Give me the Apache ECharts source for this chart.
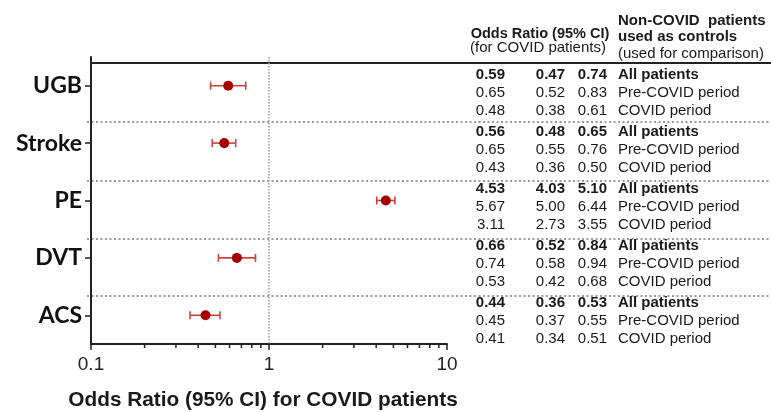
<!DOCTYPE html>
<html>
<head>
<meta charset="utf-8">
<script src="https://cdn.jsdelivr.net/npm/echarts@6/dist/echarts.min.js"></script>
<style>
html,body{margin:0;padding:0;background:#fff;}
#chart{width:771px;height:412px;}
</style>
</head>
<body>
<div id="chart"></div>
<script>
// ---- data ----
const categories = ['UGB', 'Stroke', 'PE', 'DVT', 'ACS'];
const orValues = [0.59, 0.56, 4.53, 0.66, 0.44];
const ciLow = [0.47, 0.48, 4.03, 0.52, 0.36];
const ciHigh = [0.74, 0.65, 5.10, 0.84, 0.53];
const xTickLabels = ['0.1', '1', '10'];
const minorTickValues = [0.2, 0.3, 0.4, 0.5, 0.6, 0.7, 0.8, 0.9, 2, 3, 4, 5, 6, 7, 8, 9];
const refLineValue = 1;

const subgroupLabels = ['All patients', 'Pre-COVID period', 'COVID period'];
const tableOR = [[0.59, 0.65, 0.48], [0.56, 0.65, 0.43], [4.53, 5.67, 3.11], [0.66, 0.74, 0.53], [0.44, 0.45, 0.41]];
const tableLow = [[0.47, 0.52, 0.38], [0.48, 0.55, 0.36], [4.03, 5.00, 2.73], [0.52, 0.58, 0.42], [0.36, 0.37, 0.34]];
const tableHigh = [[0.74, 0.83, 0.61], [0.65, 0.76, 0.50], [5.10, 6.44, 3.55], [0.84, 0.94, 0.68], [0.53, 0.55, 0.51]];

const headerOR = ['Odds Ratio (95% CI)', '(for COVID patients)'];
const headerCtrl = ['Non-COVID  patients', 'used as controls', '(used for comparison)'];
const xAxisTitle = 'Odds Ratio (95% CI) for COVID patients';

// ---- layout ----
const ARIAL = '"Liberation Sans", Arial, sans-serif';
const TXT = '#1a1a1a';
const gridBox = { left: 91, right: 324, top: 57, bottom: 68 };
const tableTop = 75, groupStep = 57, rowStep = 18;
const colRight = [505, 565, 607], labelLeft = 618;
const separatorY = [122, 181, 239, 296];

const graphics = [];
// top rule
graphics.push({ type: 'line', shape: { x1: 91, y1: 63, x2: 771, y2: 63 }, style: { stroke: '#222', lineWidth: 2 }, silent: true });
// dotted separators
separatorY.forEach(y => graphics.push({
  type: 'line', shape: { x1: 87, y1: y, x2: 771, y2: y },
  style: { stroke: '#7a7a7a', lineWidth: 1.5, lineDash: [2, 2.5] }, silent: true
}));
// headers
graphics.push({ type: 'text', x: 540, y: 34, style: { text: headerOR[0], font: 'bold 14.5px ' + ARIAL, fill: TXT, textAlign: 'center', textVerticalAlign: 'middle' } });
graphics.push({ type: 'text', x: 538, y: 48, style: { text: headerOR[1], font: '15px ' + ARIAL, fill: TXT, textAlign: 'center', textVerticalAlign: 'middle' } });
[21, 37, 54].forEach((y, i) => graphics.push({
  type: 'text', x: labelLeft, y: y,
  style: { text: headerCtrl[i], font: (i < 2 ? 'bold ' : '') + '15px ' + ARIAL, fill: TXT, textAlign: 'left', textVerticalAlign: 'middle' }
}));
// table body
for (let g = 0; g < categories.length; g++) {
  for (let r = 0; r < subgroupLabels.length; r++) {
    const y = tableTop + g * groupStep + r * rowStep;
    const font = (r === 0 ? 'bold ' : '') + '15px ' + ARIAL;
    const vals = [tableOR[g][r], tableLow[g][r], tableHigh[g][r]];
    vals.forEach((v, c) => graphics.push({
      type: 'text', x: colRight[c], y: y,
      style: { text: v.toFixed(2), font: font, fill: TXT, textAlign: 'right', textVerticalAlign: 'middle' }
    }));
    graphics.push({
      type: 'text', x: labelLeft, y: y,
      style: { text: subgroupLabels[r], font: font, fill: TXT, textAlign: 'left', textVerticalAlign: 'middle' }
    });
  }
}
// x axis title
graphics.push({ type: 'text', x: 263, y: 400, style: { text: xAxisTitle, font: 'bold 20.8px ' + ARIAL, fill: TXT, textAlign: 'center', textVerticalAlign: 'middle' } });

const chart = echarts.init(document.getElementById('chart'), null, { renderer: 'canvas' });
chart.setOption({
  animation: false,
  backgroundColor: '#fff',
  grid: Object.assign({ containLabel: false }, gridBox),
  xAxis: {
    type: 'log', logBase: 10, min: 0.1, max: 10,
    axisLine: { show: true, lineStyle: { color: '#222', width: 2 } },
    axisTick: { show: true, length: 6, lineStyle: { color: '#222', width: 1.5 } },
    splitLine: { show: false },
    axisLabel: {
      fontSize: 19, fontFamily: ARIAL, color: '#222', margin: 11,
      formatter: function (v) {
        const idx = Math.round(Math.log10(v)) + 1;
        return xTickLabels[idx] !== undefined ? xTickLabels[idx] : '';
      }
    }
  },
  yAxis: {
    type: 'category', data: categories, inverse: true,
    axisLine: { show: true, lineStyle: { color: '#222', width: 2 } },
    axisTick: { show: true, alignWithLabel: true, length: 6, lineStyle: { color: '#222', width: 1.5 } },
    axisLabel: { fontSize: 23, fontWeight: 'bold', fontFamily: 'Lato, "Open Sans", sans-serif', color: '#111', margin: 9 },
    splitLine: { show: false }
  },
  series: [
    {
      type: 'custom', name: 'CI',
      data: categories.map((c, i) => [ciLow[i], ciHigh[i], i]),
      encode: { x: [0, 1], y: 2 },
      renderItem: function (params, api) {
        const lo = api.coord([api.value(0), api.value(2)]);
        const hi = api.coord([api.value(1), api.value(2)]);
        const h = 4;
        const st = { stroke: '#c9423f', lineWidth: 1.6 };
        return {
          type: 'group', children: [
            { type: 'line', shape: { x1: lo[0], y1: lo[1], x2: hi[0], y2: hi[1] }, style: st },
            { type: 'line', shape: { x1: lo[0], y1: lo[1] - h, x2: lo[0], y2: lo[1] + h }, style: st },
            { type: 'line', shape: { x1: hi[0], y1: hi[1] - h, x2: hi[0], y2: hi[1] + h }, style: st }
          ]
        };
      },
      z: 3
    },
    {
      type: 'scatter', name: 'OR',
      data: orValues.map((v, i) => [v, i]),
      symbol: 'circle', symbolSize: 10,
      itemStyle: { color: '#a50000', opacity: 1 },
      z: 4,
      markLine: {
        silent: true, symbol: ['none', 'none'], label: { show: false },
        lineStyle: { type: 'dotted', color: '#9a9a9a', width: 1.5 },
        data: [{ xAxis: refLineValue }]
      }
    },
    {
      type: 'custom', name: 'minorTicks', silent: true,
      data: minorTickValues.map(v => [v, 0]),
      encode: { x: 0, y: 1 },
      renderItem: function (params, api) {
        const p = api.coord([api.value(0), 0]);
        const bottom = params.coordSys.y + params.coordSys.height;
        return { type: 'line', shape: { x1: p[0], y1: bottom, x2: p[0], y2: bottom + 4 }, style: { stroke: '#222', lineWidth: 1.5 } };
      },
      z: 5
    }
  ],
  graphic: graphics
});
</script>
</body>
</html>
